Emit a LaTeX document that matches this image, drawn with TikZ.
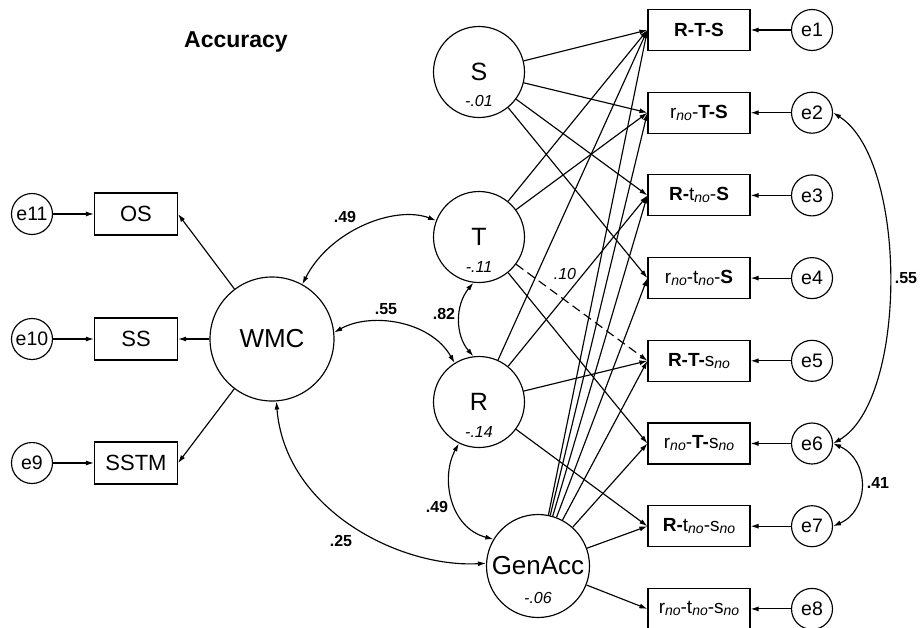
\documentclass[tikz,border=0pt]{standalone}
\usepackage{fontspec}
\setmainfont{Liberation Sans}
\usetikzlibrary{arrows.meta}
% italic "no" index set just below the baseline
\newcommand{\subno}{\raisebox{-2pt}{\fontsize{14}{14}\selectfont\mdseries\itshape no}}

\begin{document}
\begin{tikzpicture}[x=1pt,y=-1pt,line width=1.15pt,
  obs/.style={draw, rectangle, minimum width=102pt, minimum height=41pt, inner sep=0pt,
    font=\fontsize{19}{22}\selectfont},
  lobs/.style={draw, rectangle, minimum width=83pt, minimum height=42pt, inner sep=0pt,
    font=\fontsize{22}{26}\selectfont},
  err/.style={draw, circle, minimum size=41pt, inner sep=0pt, font=\fontsize{19.5}{22}\selectfont},
  lat/.style={draw, circle, inner sep=0pt, font=\fontsize{25}{30}\selectfont},
  val/.style={inner sep=0pt, font=\fontsize{16}{18}\selectfont\itshape},
  coef/.style={inner sep=0pt, font=\fontsize{16}{18}\selectfont\bfseries},
  reg/.style={-{Latex[length=8pt,width=5pt]}},
  cov/.style={{Latex[length=8pt,width=5pt]}-{Latex[length=8pt,width=5pt]}}]

\useasboundingbox (0,0) rectangle (920,627);

\node[inner sep=0pt, font=\fontsize{23}{26}\selectfont\bfseries] (title) at (236,42) {Accuracy};

% latent variables
\node[lat, minimum size=91pt] (S) at (479,72) {S};
\node[lat, minimum size=91pt] (T) at (479,237) {T};
\node[lat, minimum size=91pt] (R) at (479,402) {R};
\node[lat, minimum size=103pt, font=\fontsize{26}{30}\selectfont] (G) at (538,566) {GenAcc};
\node[lat, minimum size=124pt, font=\fontsize{26}{30}\selectfont] (WMC) at (272,339) {WMC};

\node[val] (sv) at ([yshift=-29pt]S.center) {-.01};
\node[val] (tv) at ([yshift=-30pt]T.center) {-.11};
\node[val] (rv) at ([yshift=-30pt]R.center) {-.14};
\node[val] (gv) at ([yshift=-32pt]G.center) {-.06};

% indicators on the right
\node[obs] (b1) at (699,30)    {\textbf{R-T-S}};
\node[obs] (b2) at (699,112.7) {r\subno-\textbf{T-S}};
\node[obs] (b3) at (699,195.4) {\textbf{R-}t\subno-\textbf{S}};
\node[obs] (b4) at (699,278.1) {r\subno-t\subno-\textbf{S}};
\node[obs] (b5) at (699,360.8) {\textbf{R-T-}s\subno};
\node[obs] (b6) at (699,443.5) {r\subno-\textbf{T-}s\subno};
\node[obs] (b7) at (699,526.2) {\textbf{R-}t\subno-s\subno};
\node[obs] (b8) at (699,608.9) {r\subno-t\subno-s\subno};

\node[err] (e1) at (812,30)    {e1};
\node[err] (e2) at (812,112.7) {e2};
\node[err] (e3) at (812,195.4) {e3};
\node[err] (e4) at (812,278.1) {e4};
\node[err] (e5) at (812,360.8) {e5};
\node[err] (e6) at (812,443.5) {e6};
\node[err] (e7) at (812,526.2) {e7};
\node[err] (e8) at (812,608.9) {e8};

\foreach \k in {1,...,8} \draw[reg] (e\k) -- (b\k);

% working memory indicators on the left
\node[lobs] (OS) at (136,214) {OS};
\node[lobs] (SS) at (136,339) {SS};
\node[lobs] (SSTM) at (136,463) {SSTM};
\node[err] (e11) at (32,214) {e11};
\node[err] (e10) at (32,339) {e10};
\node[err] (e9) at (32,463) {e9};

\draw[reg] (e11) -- (OS);
\draw[reg] (e10) -- (SS);
\draw[reg] (e9) -- (SSTM);
\draw[reg] (WMC) -- (OS.east);
\draw[reg] (WMC) -- (SS.east);
\draw[reg] (WMC) -- (SSTM.east);

% loadings
\foreach \k in {1,...,4} \draw[reg] (S) -- (b\k.west);
\foreach \k in {1,2,6} \draw[reg] (T) -- (b\k.west);
\draw[reg, dash pattern=on 9pt off 5pt] (T) -- (b5.west);
\foreach \k in {1,3,5,7} \draw[reg] (R) -- (b\k.west);
\foreach \k in {1,...,8} \draw[reg] (G) -- (b\k.west);

\node[val] (c10) at (565,274) {.10};

% covariances
\draw[cov] (WMC.61) .. controls (330,230) and (395,205) .. (T.159);
\draw[cov] (WMC.6) .. controls (370,312) and (430,320) .. (R.122);
\draw[cov] (T.263) .. controls (455,305) and (455,335) .. (R.97);
\draw[cov] (R.244) .. controls (440,478) and (450,528) .. (G.149);
\draw[cov] (WMC.274) .. controls (285,510) and (400,568) .. (G.177);
\draw[cov] (e2.east) .. controls (908,160) and (908,400) .. (e6.east);
\draw[cov] (e6.east) .. controls (870,460) and (870,510) .. (e7.east);

\node[coef] (c1) at (345,217) {.49};
\node[coef] (c2) at (386,309) {.55};
\node[coef] (c3) at (444,314) {.82};
\node[coef] (c4) at (437,507) {.49};
\node[coef] (c5) at (341,541) {.25};
\node[coef] (c6) at (906,278) {.55};
\node[coef] (c7) at (878,483) {.41};
\end{tikzpicture}
\end{document}
